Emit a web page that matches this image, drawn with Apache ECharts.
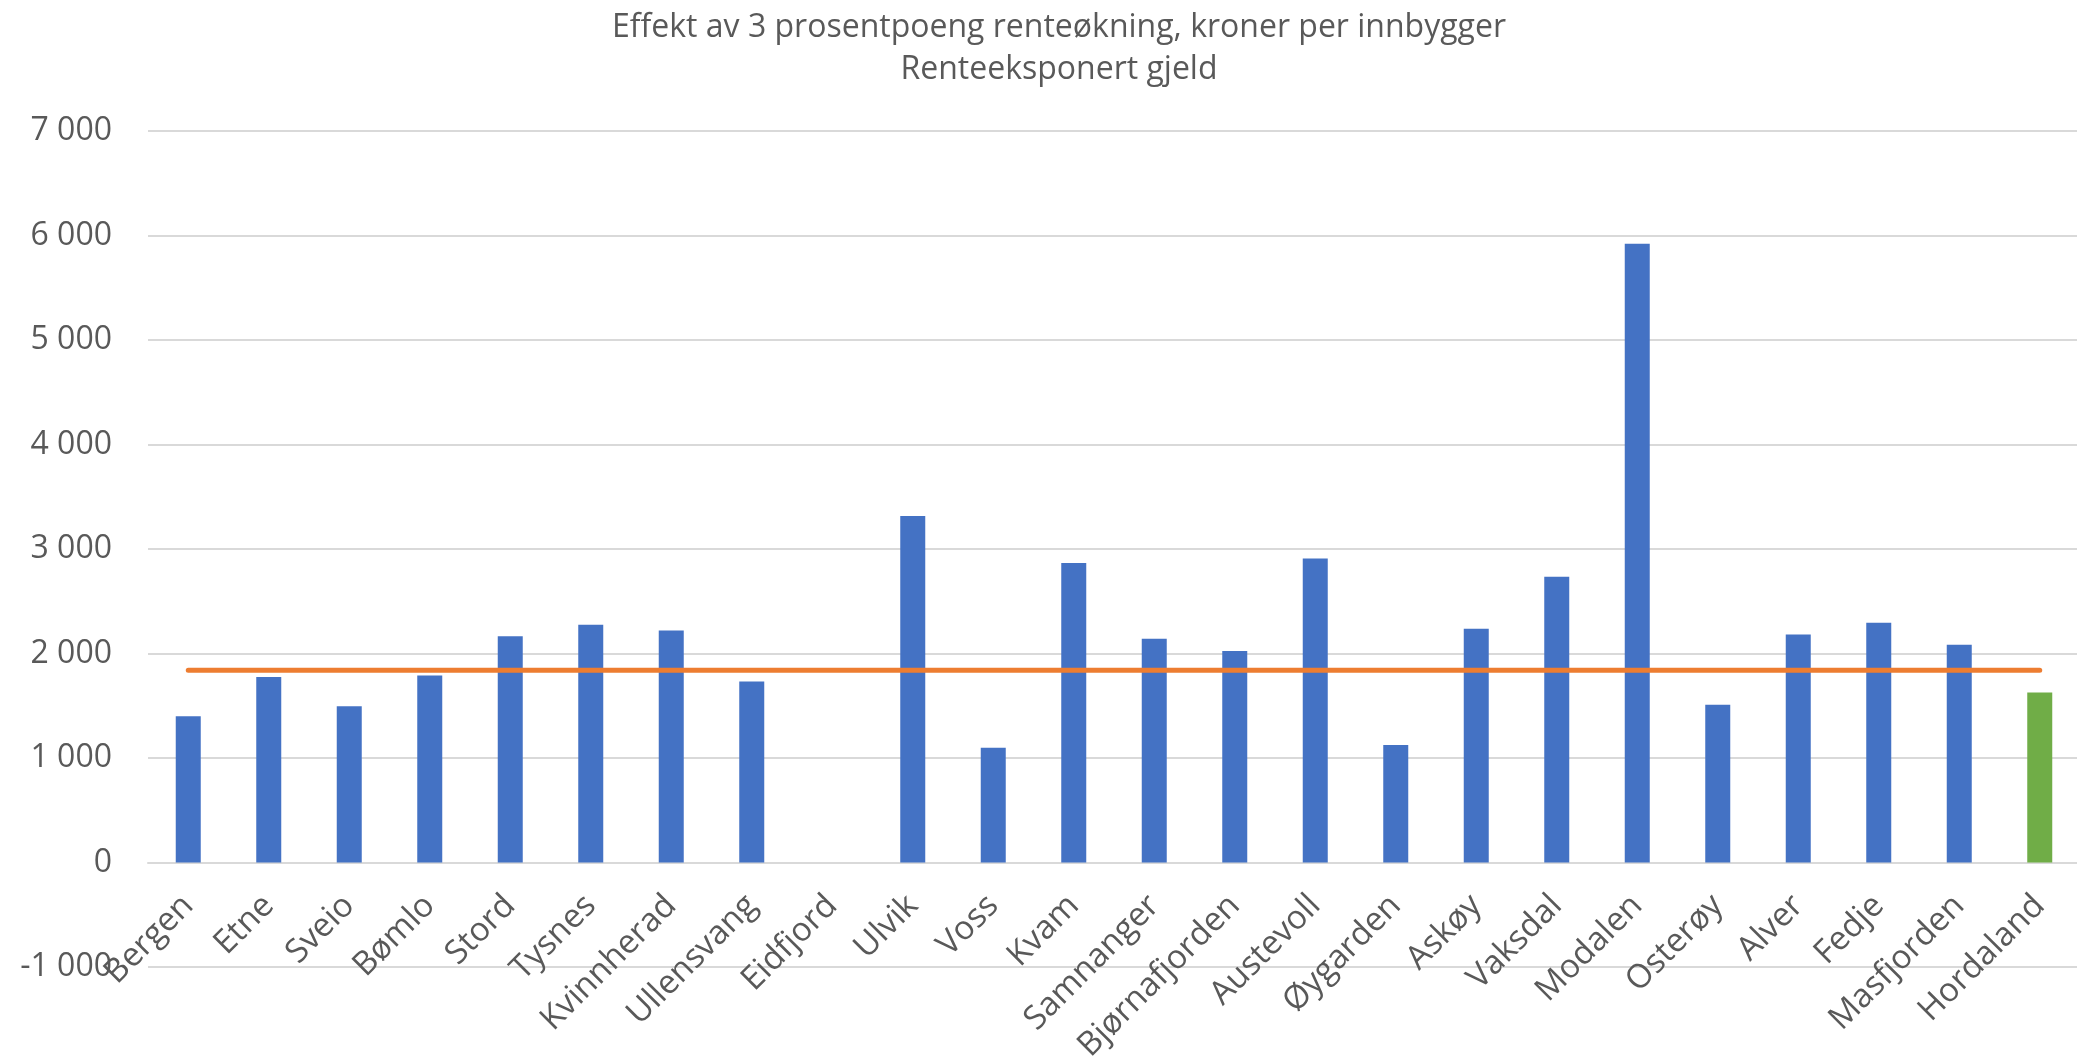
<!DOCTYPE html>
<html>
<head>
<meta charset="utf-8">
<script src="https://cdn.jsdelivr.net/npm/echarts@6/dist/echarts.min.js"></script>
<style>
  html, body { margin: 0; padding: 0; background: #fff; }
  #chart { width: 2077px; height: 1058px; }
</style>
</head>
<body>
<div id="chart"></div>
<script>
var kommuner = ['Bergen', 'Etne', 'Sveio', 'Bømlo', 'Stord', 'Tysnes', 'Kvinnherad', 'Ullensvang',
    'Eidfjord', 'Ulvik', 'Voss', 'Kvam', 'Samnanger', 'Bjørnafjorden', 'Austevoll', 'Øygarden',
    'Askøy', 'Vaksdal', 'Modalen', 'Osterøy', 'Alver', 'Fedje', 'Masfjorden', 'Hordaland'];

// kroner per innbygger, lest av figuren
var effekt = [1400, 1775, 1495, 1790, 2165, 2275, 2220, 1732,
    0, 3315, 1097, 2867, 2141, 2025, 2910, 1124,
    2237, 2734, 5920, 1510, 2183, 2295, 2083, 1627];

// snittlinje
var snitt = [1840, 1840, 1840, 1840, 1840, 1840, 1840, 1840,
    1840, 1840, 1840, 1840, 1840, 1840, 1840, 1840,
    1840, 1840, 1840, 1840, 1840, 1840, 1840, 1840];

var yTicks = [-1000, 0, 1000, 2000, 3000, 4000, 5000, 6000, 7000];

var chart = echarts.init(document.getElementById('chart'));

var fmt = function (v) {
    var s = String(Math.abs(v)).replace(/\B(?=(\d{3})+(?!\d))/g, ' ');
    return (v < 0 ? '-' : '') + s;
};

// grid: 131 -> 967, null ligger 1/8 av hoyden over bunnen
var gridTop = 131, gridBottom = 91;
var plotH = 1058 - gridTop - gridBottom;
var zeroOffset = plotH * 1000 / 8000;

option = {
    animation: false,
    title: {
        text: 'Effekt av 3 prosentpoeng renteøkning, kroner per innbygger\nRenteeksponert gjeld',
        left: 1054,
        top: 2,
        textAlign: 'center',
        textStyle: {
            fontFamily: 'Open Sans',
            fontWeight: 'normal',
            fontSize: 32,
            lineHeight: 42,
            color: '#595959'
        }
    },
    grid: {
        left: 148,
        right: -3,
        top: gridTop,
        bottom: gridBottom,
        outerBoundsMode: 'none'
    },
    xAxis: {
        type: 'category',
        data: kommuner,
        offset: -zeroOffset,
        axisLine: { onZero: false, lineStyle: { color: '#d9d9d9', width: 2 } },
        axisTick: { show: false },
        axisLabel: {
            interval: 0,
            rotate: 45,
            margin: 38,
            fontFamily: 'Open Sans',
            fontSize: 33,
            color: '#595959'
        }
    },
    yAxis: {
        type: 'value',
        min: yTicks[0],
        max: yTicks[yTicks.length - 1],
        interval: 1000,
        axisLine: { show: false },
        axisTick: { show: false },
        splitLine: { lineStyle: { color: '#d9d9d9', width: 2 } },
        axisLabel: {
            margin: 36,
            fontFamily: 'Open Sans',
            fontSize: 32,
            color: '#595959',
            formatter: fmt
        }
    },
    series: [
        {
            type: 'bar',
            barWidth: 25,
            data: effekt.map(function (v, i) {
                return i === effekt.length - 1 ? { value: v, itemStyle: { color: '#70ad47' } } : v;
            }),
            itemStyle: { color: '#4472c4' }
        },
        {
            type: 'line',
            data: snitt,
            symbol: 'none',
            lineStyle: { color: '#ed7d31', width: 5, cap: 'round' },
            z: 3
        }
    ]
};

chart.setOption(option);
</script>
</body>
</html>
